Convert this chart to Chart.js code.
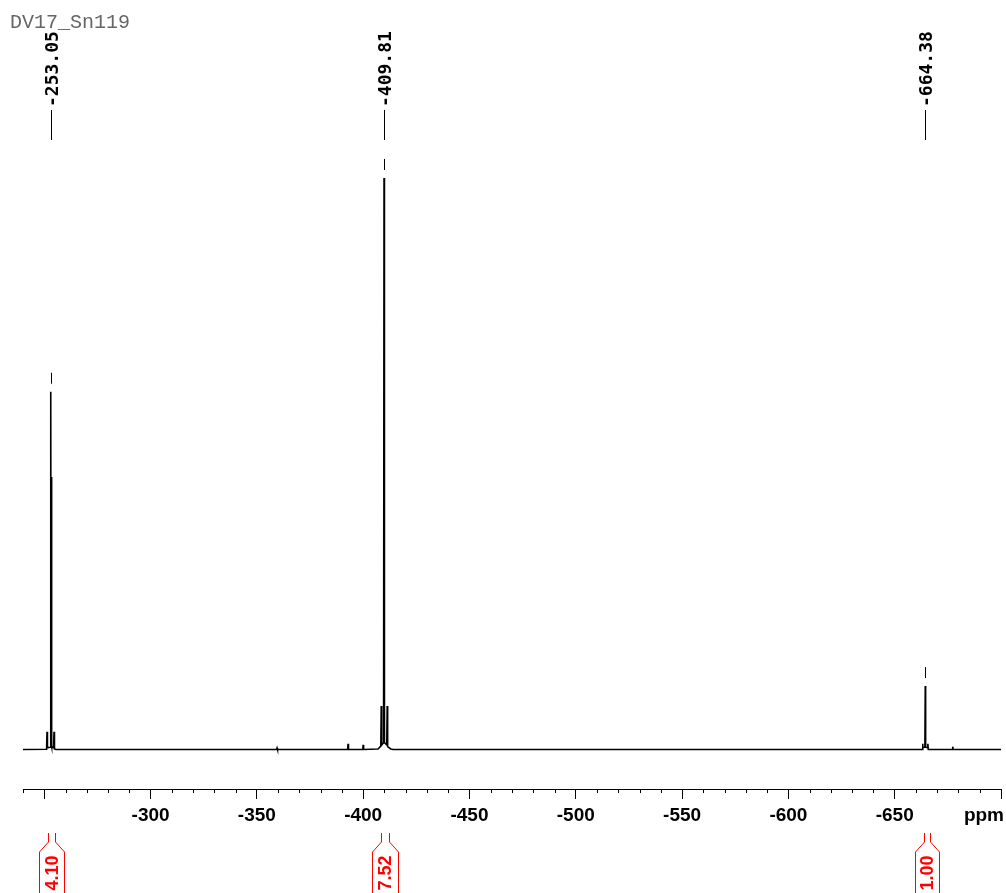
<!DOCTYPE html>
<html>
<head>
<meta charset="utf-8">
<script src="https://cdn.jsdelivr.net/npm/chart.js@4"></script>
<style>
  html, body { margin: 0; padding: 0; background: #fff; }
  #c { display: block; }
</style>
</head>
<body>
<canvas id="c" width="1006" height="893"></canvas>
<script>
// ---- data ----
const title = "DV17_Sn119";
const ppm = [
  -240, -251.1, -251.3, -251.5, -252.8, -253.05, -253.2, -253.35, -253.6, -254.4, -254.6, -254.8, -255.5,
  -359.3, -359.5, -359.7, -392.7, -392.9, -393.1, -399.8, -400.0, -400.2,
  -407.0, -408.3, -408.5, -408.7, -409.6, -409.81, -410.0, -411.1, -411.3, -411.5, -413.0, -414.0,
  -662.9, -663.1, -663.3, -664.2, -664.38, -664.55, -665.4, -665.6, -665.8,
  -677.1, -677.3, -677.5, -700
];
const intensity = [
  0, 0.05, 3.1, 0.3, 0.4, 62.6, 1.0, 47.7, 0.5, 0.3, 3.1, 0.1, 0,
  0, 0.25, 0, 0, 1.0, 0, 0, 0.8, 0,
  0.1, 0.6, 7.6, 0.8, 1.2, 100, 1.2, 0.8, 7.6, 0.5, 0.1, 0,
  0, 1.0, 0.3, 0.4, 11.1, 0.4, 0.3, 1.0, 0,
  0, 0.5, 0, 0
];
const peakPpm = [-253.05, -409.81, -664.38];
const peakTop = [62.6, 100, 11.1];
const peakText = ["-253.05", "-409.81", "-664.38"];
const integFrom = [-251.8, -408.2, -663.6];
const integTo = [-254.9, -412.0, -666.4];
const integText = ["4.10", "7.52", "1.00"];
const labeledTicks = [-300, -350, -400, -450, -500, -550, -600, -650];
const xMin = -700, xMax = -240, majorStep = 50, minorStep = 10;
const axisUnit = "ppm";

const points = ppm.map((p, i) => ({ x: p, y: intensity[i] }));

const overlay = {
  id: 'overlay',
  afterDraw(chart) {
    const ctx = chart.ctx;
    const xs = chart.scales.x, ys = chart.scales.y;
    const axisY = chart.chartArea.bottom;
    ctx.save();
    // minor ticks
    ctx.strokeStyle = '#000';
    ctx.lineWidth = 1;
    for (let v = xMin; v <= xMax; v += minorStep) {
      if (v % majorStep === 0) continue;
      const px = Math.round(xs.getPixelForValue(v)) + 0.5;
      ctx.beginPath(); ctx.moveTo(px, axisY); ctx.lineTo(px, axisY + 4); ctx.stroke();
    }
    // unit label
    ctx.fillStyle = '#000';
    ctx.font = 'bold 19px "Liberation Sans", Arial, sans-serif';
    ctx.textAlign = 'right'; ctx.textBaseline = 'middle';
    ctx.fillText(axisUnit, 1004, 816);
    // title
    ctx.fillStyle = '#666';
    ctx.font = '20px "Liberation Mono", "Courier New", monospace';
    ctx.textAlign = 'left'; ctx.textBaseline = 'alphabetic';
    ctx.fillText(title, 10, 28);
    // peak labels
    peakPpm.forEach((p, i) => {
      const px = Math.round(xs.getPixelForValue(p)) + 0.5;
      ctx.strokeStyle = '#000'; ctx.lineWidth = 1;
      ctx.beginPath(); ctx.moveTo(px, 110); ctx.lineTo(px, 140); ctx.stroke();
      const topY = ys.getPixelForValue(peakTop[i]);
      ctx.beginPath(); ctx.moveTo(px, topY - 8); ctx.lineTo(px, topY - 19); ctx.stroke();
      ctx.save();
      ctx.translate(px + 1.5, 107);
      ctx.rotate(-Math.PI / 2);
      ctx.fillStyle = '#000';
      ctx.font = 'bold 18px "DejaVu Sans Mono", monospace';
      ctx.textAlign = 'left'; ctx.textBaseline = 'middle';
      ctx.fillText(peakText[i], 0, 0);
      ctx.restore();
    });
    // integrals
    integFrom.forEach((a, i) => {
      const l = Math.round(xs.getPixelForValue(a)) + 0.5;
      const r = Math.round(xs.getPixelForValue(integTo[i])) + 0.5;
      ctx.strokeStyle = '#ff0000'; ctx.lineWidth = 1;
      ctx.beginPath();
      ctx.moveTo(l, 833); ctx.lineTo(l, 842); ctx.lineTo(l - 9, 852); ctx.lineTo(l - 9, 895);
      ctx.moveTo(r, 833); ctx.lineTo(r, 842); ctx.lineTo(r + 9, 852); ctx.lineTo(r + 9, 895);
      ctx.stroke();
      ctx.save();
      ctx.translate((l + r) / 2 + 1, 873);
      ctx.rotate(-Math.PI / 2);
      ctx.fillStyle = '#ff0000';
      ctx.font = 'bold 18px "Liberation Sans", Arial, sans-serif';
      ctx.textAlign = 'center'; ctx.textBaseline = 'middle';
      ctx.fillText(integText[i], 0, 0);
      ctx.restore();
    });
    ctx.restore();
  }
};

new Chart(document.getElementById('c'), {
  type: 'line',
  data: {
    datasets: [{
      data: points,
      borderColor: '#000',
      borderWidth: 1.6,
      pointRadius: 0,
      tension: 0,
      fill: false
    }]
  },
  options: {
    responsive: false,
    animation: false,
    devicePixelRatio: 1,
    layout: { padding: { left: 23, right: 5, top: 150, bottom: 0 } },
    plugins: { legend: { display: false }, tooltip: { enabled: false }, title: { display: false } },
    scales: {
      x: {
        type: 'linear',
        reverse: true,
        min: xMin, max: xMax,
        position: 'bottom',
        afterFit(scale) { scale.height = 104; },
        border: { display: true, color: '#000', width: 1 },
        grid: { display: true, drawOnChartArea: false, drawTicks: true, tickLength: 10, color: '#000', tickColor: '#000' },
        ticks: {
          stepSize: majorStep,
          includeBounds: false,
          autoSkip: false,
          maxRotation: 0,
          padding: 5,
          color: '#000',
          font: { family: '"Liberation Sans", Arial, sans-serif', size: 19, weight: 'bold' },
          callback: (v) => labeledTicks.includes(v) ? String(v) : ''
        }
      },
      y: {
        display: false,
        min: -6.91, max: 104.9
      }
    }
  },
  plugins: [overlay]
});
</script>
</body>
</html>
